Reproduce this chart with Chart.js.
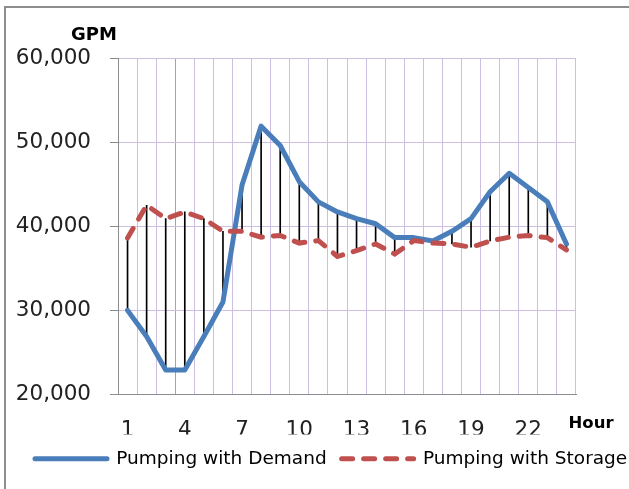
<!DOCTYPE html>
<html>
<head>
<meta charset="utf-8">
<script src="https://cdn.jsdelivr.net/npm/chart.js@4.4.1/dist/chart.umd.min.js"></script>
<style>
    body { margin: 0; background: #fff; }
    #frame { position: absolute; left: 4px; top: 6px; width: 700px; height: 600px; border: 2px solid #8d8d8d; }
    #myChart { position: absolute; left: 0; top: 0; }
</style>
</head>
<body>
<div id="frame"></div>
<canvas id="myChart" width="629" height="489"></canvas>
<script>
"use strict"

const hours = ["1", "2", "3", "4", "5", "6", "7", "8", "9", "10", "11", "12",
    "13", "14", "15", "16", "17", "18", "19", "20", "21", "22", "23", "24"];

const pumpingDemand = [30000, 26900, 22900, 22900, 26900, 31000, 44900, 51900, 49600, 45300, 42900, 41700,
    40900, 40300, 38650, 38650, 38250, 39400, 40900, 44100, 46300, 44600, 42900, 37900];

const pumpingStorage = [38600, 42500, 40900, 41700, 40900, 39400, 39400, 38700, 38900, 38000, 38300, 36400,
    37100, 37900, 36700, 38300, 38000, 37900, 37500, 38250, 38700, 38900, 38650, 37200];

const yTicks = [20000, 30000, 40000, 50000, 60000];

Chart.defaults.font.family = "'DejaVu Sans', sans-serif";
Chart.defaults.color = "#222";

// high-low lines between the two series
const dropLines = pumpingDemand.map((d, i) => [pumpingStorage[i], d]);

// "GPM" and "Hour" captions, plus nudging the legend to the right
const captions = {
    id: "captions",
    beforeDraw(chart) {
        chart.legend.left = 20;
        chart.legend.right = 680;
    },
    afterDraw(chart) {
        const ctx = chart.ctx;
        const area = chart.chartArea;
        ctx.save();
        ctx.fillStyle = "#000";
        ctx.textAlign = "center";
        ctx.textBaseline = "middle";
        ctx.font = "bold 18px 'DejaVu Sans'";
        ctx.fillText("GPM", area.left - 24, area.top - 23);
        ctx.font = "bold 16.5px 'DejaVu Sans'";
        ctx.fillText("Hour", area.right + 15, area.bottom + 29);
        ctx.restore();
    }
};

const legendLabels = (chart) => {
    const items = Chart.defaults.plugins.legend.labels.generateLabels(chart);
    return items.filter(item => item.datasetIndex < 2).map(item => {
        const ds = chart.data.datasets[item.datasetIndex];
        item.strokeStyle = ds.borderColor;
        item.lineWidth = 5;
        item.lineDash = ds.borderDash || [];
        item.lineCap = "round";
        return item;
    });
};

const ctx = document.getElementById("myChart").getContext("2d");

new Chart(ctx, {
    data: {
        labels: hours,
        datasets: [{
            type: "line",
            label: "Pumping with Demand",
            data: pumpingDemand,
            borderColor: "#4a7ebb",
            backgroundColor: "#4a7ebb",
            borderWidth: 5,
            borderCapStyle: "round",
            borderJoinStyle: "round",
            pointRadius: 0,
            tension: 0,
            order: 1
        }, {
            type: "line",
            label: "Pumping with Storage",
            data: pumpingStorage,
            borderColor: "#c0504d",
            backgroundColor: "#c0504d",
            borderWidth: 5,
            borderDash: [11, 11],
            borderCapStyle: "round",
            pointRadius: 0,
            tension: 0,
            order: 0
        }, {
            type: "bar",
            label: "drop",
            data: dropLines,
            backgroundColor: "#000",
            barThickness: 1,
            order: 2
        }]
    },
    options: {
        responsive: false,
        animation: false,
        layout: {
            padding: { left: 0, top: 58, right: 0, bottom: 11 }
        },
        scales: {
            x: {
                offset: true,
                grid: {
                    offset: true,
                    drawTicks: false,
                    color: (c) => (c.index === 3 || c.index === 24) ? "#ad97cc" : "#cdbfe2"
                },
                border: { color: "#8c8c8c" },
                ticks: {
                    autoSkip: false,
                    maxRotation: 0,
                    padding: 23,
                    font: { size: 21.5 },
                    callback: (v, i) => i % 3 === 0 ? hours[i] : ""
                },
                afterFit: (scale) => { scale.height = 40; }
            },
            y: {
                min: 20000,
                max: 60000,
                afterBuildTicks: (scale) => { scale.ticks = yTicks.map(v => ({ value: v })); },
                grid: {
                    color: "#cdbfe2",
                    tickColor: "#8c8c8c",
                    tickLength: 8
                },
                border: { color: "#8c8c8c" },
                ticks: {
                    padding: 19,
                    font: { size: 21.5 },
                    callback: (v) => v.toLocaleString("en-US")
                },
                afterFit: (scale) => { scale.width = 118; }
            },
            y2: {
                position: "right",
                grid: { display: false },
                border: { display: false },
                ticks: { display: false },
                afterFit: (scale) => { scale.width = 53; }
            }
        },
        plugins: {
            legend: {
                position: "bottom",
                align: "start",
                labels: {
                    usePointStyle: true,
                    pointStyle: "line",
                    pointStyleWidth: 72,
                    padding: 15,
                    color: "#000",
                    font: { size: 18.5 },
                    generateLabels: legendLabels,
                    sort: (a, b) => a.datasetIndex - b.datasetIndex
                }
            },
            tooltip: { enabled: false }
        }
    },
    plugins: [captions]
});
</script>
</body>
</html>
